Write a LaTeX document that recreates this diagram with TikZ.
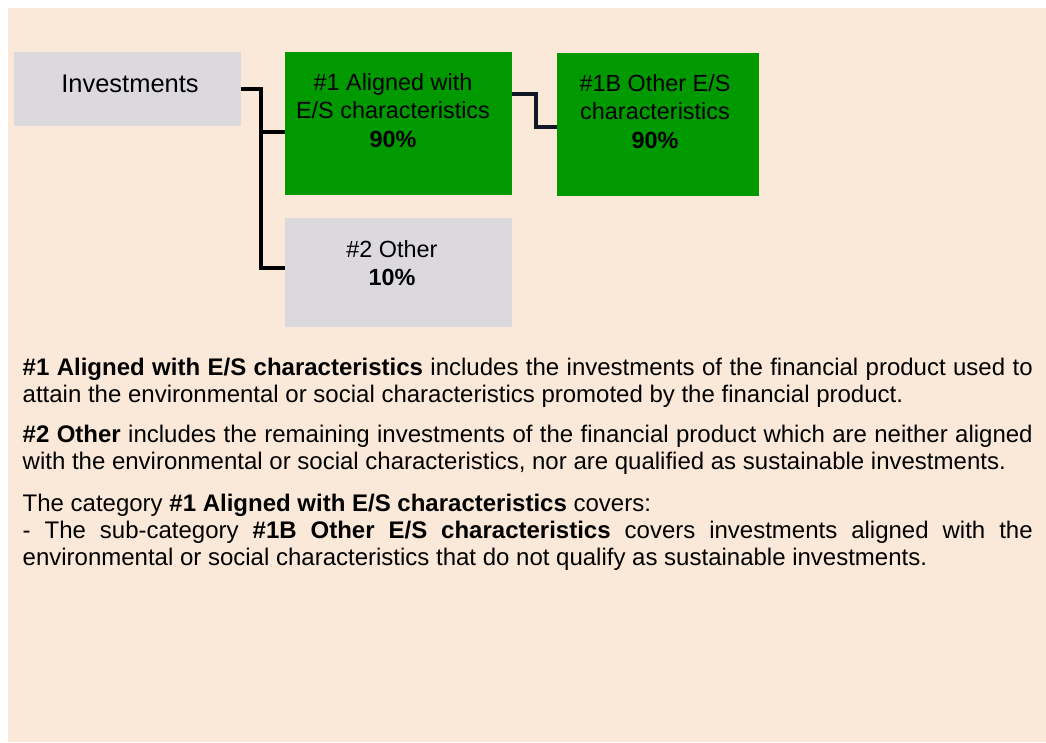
\documentclass[tikz,border=0pt]{standalone}
\usepackage{fontspec}
\setmainfont{Liberation Sans}
\usepackage{xcolor}
\usetikzlibrary{positioning}
\setlength{\parindent}{0pt}
\hyphenpenalty=10000
\tolerance=9999
\definecolor{sandbg}{RGB}{250,233,216}
\definecolor{paleslate}{RGB}{220,217,222}
\definecolor{esgreen}{RGB}{0,153,0}
\definecolor{inkline}{RGB}{16,24,38}

\begin{document}
\begin{tikzpicture}[x=1pt, y=-1pt,
  catbox/.style={anchor=north west, inner sep=0pt, outer sep=0pt},
  greybox/.style={catbox, fill=paleslate},
  greenbox/.style={catbox, fill=esgreen},
  boxlabel/.style={anchor=north, inner sep=0pt, align=center,
                   font=\fontsize{23.4}{28.5}\selectfont},
  link/.style={line width=3.5pt, line join=miter},
  note/.style={anchor=north west, inner sep=0pt, text width=1010pt, align=justify,
               font=\fontsize{24}{26.8}\selectfont}]

  \useasboundingbox (0,0) rectangle (1046,742);
  \fill[sandbg] (8,8) rectangle (1046,742);

  % Category boxes
  \node[greybox, minimum width=227pt, minimum height=74pt] (inv) at (14,52) {};
  \node[greenbox, minimum width=227pt, minimum height=143pt] (aligned) at (285,52) {};
  \node[greenbox, minimum width=202pt, minimum height=143pt] (otheres) at (557,53) {};
  \node[greybox, minimum width=227pt, minimum height=109pt] (other) at (285,218) {};

  % Box labels
  \node[boxlabel, anchor=base, font=\fontsize{25.5}{30}\selectfont] (invtxt) at (130,92.5) {Investments};
  \node[boxlabel] (alignedtxt) at (393,73) {\#1 Aligned with\\E/S characteristics\\\textbf{90\%}};
  \node[boxlabel] (otherestxt) at (655,74) {\#1B Other E/S\\characteristics\\\textbf{90\%}};
  \node[boxlabel] (othertxt) at (392,240) {\#2 Other\\\textbf{10\%}};

  % Connectors
  \coordinate (trunk) at (261,0);
  \path (aligned.west) ++(0,8.5) coordinate (tapa);
  \path (other.west) ++(0,-4.5) coordinate (tapo);
  \path (aligned.east) ++(0,-29.5) coordinate (outa);
  \path (otheres.west) ++(0,2.5) coordinate (tapb);
  \draw[link] (inv.east) -| (trunk |- tapo) -- (tapo);
  \draw[link] (trunk |- tapa) -- (tapa);
  \draw[link, inkline] (outa) -- ++(24,0) |- (tapb);

  % Explanations
  \node[note] (notea) at (22.5,358) {\textbf{\#1 Aligned with E/S characteristics} includes the investments of the financial product used to attain the environmental or social characteristics promoted by the financial product.};
  \node[note] (noteb) at (22.5,425) {\textbf{\#2 Other} includes the remaining investments of the financial product which are neither aligned with the environmental or social characteristics, nor are qualified as sustainable investments.};
  \node[note] (notec) at (22.5,494) {The category \textbf{\#1 Aligned with E/S characteristics} covers:\\- The sub-category \textbf{\#1B Other E/S characteristics} covers investments aligned with the environmental or social characteristics that do not qualify as sustainable investments.};
\end{tikzpicture}
\end{document}
